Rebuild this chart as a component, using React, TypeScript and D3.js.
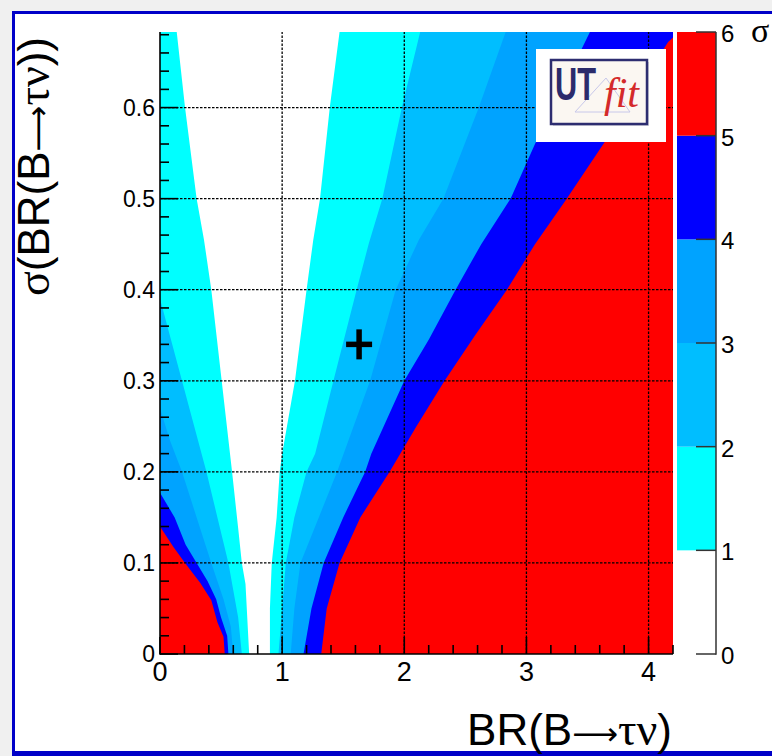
import React from 'react';
import * as d3 from 'd3';

const W = 772;
const H = 756;

// axis ticks
const xTicks = [0, 1, 2, 3, 4];
const yTicks = [0, 0.1, 0.2, 0.3, 0.4, 0.5, 0.6];
const zTicks = [0, 1, 2, 3, 4, 5, 6];
const xTickLabels = ['0', '1', '2', '3', '4'];
const yTickLabels = ['0', '0.1', '0.2', '0.3', '0.4', '0.5', '0.6'];

// colour per sigma band [0-1, 1-2, 2-3, 3-4, 4-5, 5-6]
const bandColors = ['#ffffff', '#00ffff', '#00beff', '#00a3ff', '#0000ff', '#ff0000'];

// contour boundaries: [BR, sigma(BR)]
// left branch of each level (sigma = k), bottom -> top
const left1: [number, number][] = [[0.73, 0], [0.70, 0.077], [0.67, 0.1], [0.64, 0.138], [0.59, 0.2], [0.505, 0.3], [0.42, 0.4], [0.36, 0.455], [0.30, 0.5], [0.205, 0.6], [0.137, 0.683]];
const left2: [number, number][] = [[0.67, 0], [0.64, 0.04], [0.56, 0.1], [0.47, 0.15], [0.38, 0.2], [0.18, 0.3], [0, 0.39]];
const left3: [number, number][] = [[0.60, 0], [0.58, 0.03], [0.52, 0.06], [0.42, 0.1], [0.30, 0.15], [0.18, 0.2], [0.08, 0.235], [0, 0.27]];
const left4: [number, number][] = [[0.56, 0], [0.55, 0.02], [0.50, 0.04], [0.46, 0.06], [0.39, 0.08], [0.30, 0.1], [0.21, 0.12], [0.12, 0.15], [0, 0.177]];
const left5: [number, number][] = [[0.53, 0], [0.52, 0.019], [0.47, 0.035], [0.42, 0.059], [0.33, 0.078], [0.205, 0.1], [0.11, 0.1175], [0, 0.14]];
// right branch of each level, bottom -> top
const right1: [number, number][] = [[0.90, 0], [0.90, 0.05], [0.915, 0.1], [0.955, 0.15], [0.98, 0.2], [1.0, 0.22], [1.105, 0.3], [1.20, 0.4], [1.255, 0.455], [1.31, 0.5], [1.39, 0.6], [1.47, 0.683]];
const right2: [number, number][] = [[0.97, 0], [1.0, 0.05], [1.03, 0.1], [1.10, 0.15], [1.20, 0.2], [1.27, 0.22], [1.42, 0.3], [1.61, 0.4], [1.71, 0.451], [1.82, 0.5], [1.98, 0.6], [2.13, 0.683]];
const right3: [number, number][] = [[1.07, 0], [1.10, 0.05], [1.15, 0.1], [1.30, 0.15], [1.45, 0.2], [1.72, 0.3], [1.93, 0.4], [2.12, 0.455], [2.32, 0.5], [2.61, 0.6], [2.83, 0.683]];
const right4: [number, number][] = [[1.175, 0], [1.24, 0.05], [1.34, 0.1], [1.50, 0.15], [1.68, 0.2], [1.73, 0.22], [2.0, 0.3], [2.2, 0.345], [2.42, 0.4], [2.63, 0.45], [2.87, 0.5], [3.07, 0.56], [3.52, 0.683]];
const right5: [number, number][] = [[1.32, 0], [1.365, 0.05], [1.47, 0.1], [1.64, 0.15], [1.88, 0.2], [2.10, 0.25], [2.33, 0.3], [2.58, 0.35], [2.84, 0.4], [3.07, 0.45], [3.33, 0.5], [3.63, 0.56], [4.16, 0.672], [4.25, 0.683]];

// best-fit marker
const markerBR = [1.63];
const markerSigma = [0.34];

const SANS = "'Liberation Sans', Arial, Helvetica, sans-serif";
const SERIF = "'Liberation Serif', 'Times New Roman', serif";
const ARROW = "'DejaVu Sans', sans-serif";

export default function App() {
  const x = d3.scaleLinear().domain([0, 4.2]).range([160, 673]);
  const y = d3.scaleLinear().domain([0, 0.683]).range([654, 32]);
  const z = d3.scaleLinear().domain([0, 6]).range([654, 32]);
  const line = d3.line<[number, number]>().x(d => x(d[0])).y(d => y(d[1]));

  const region = (l: [number, number][], r: [number, number][]) => {
    const yMax = y.domain()[1];
    const pts: [number, number][] = [...l];
    const last = l[l.length - 1];
    if (last[1] < yMax) pts.push([x.domain()[0], yMax]);
    const rr = [...r].reverse();
    return (line([...pts, ...rr]) || '') + 'Z';
  };

  const lefts = [left1, left2, left3, left4, left5];
  const rights = [right1, right2, right3, right4, right5];
  const order = [4, 3, 2, 1, 0];

  const [x0, x1] = x.range();
  const [y0, y1] = y.range();
  const xMinor = d3.range(0, 4.2001, 0.2);
  const yMinor = d3.range(0, 0.683, 0.02);
  const zBands = d3.range(1, 6);

  return (
    <svg width={W} height={H} style={{ position: 'absolute', left: 0, top: 0 }} fontFamily={SANS}>
      <defs>
        <clipPath id="plotclip">
          <rect x={x0} y={y1} width={x1 - x0} height={y0 - y1} />
        </clipPath>
      </defs>
      {/* frame */}
      <rect x={0} y={0} width={W} height={H} fill="#f0f0f0" />
      <rect x={12} y={11} width={800} height={760} fill="#0000c8" />
      <rect x={15} y={14} width={797} height={737} fill="#ffffff" />

      {/* contours */}
      <g clipPath="url(#plotclip)">
        <rect x={x0} y={y1} width={x1 - x0} height={y0 - y1} fill={bandColors[5]} />
        {order.map(i => (
          <path key={i} d={region(lefts[i], rights[i])} fill={bandColors[i]} />
        ))}
      </g>

      {/* grid */}
      <g stroke="#000" strokeWidth={1.3} strokeDasharray="2.5,1.5">
        {xTicks.filter(t => t > 0).map(t => (
          <line key={'gx' + t} x1={x(t)} x2={x(t)} y1={y0} y2={y1} />
        ))}
        {yTicks.filter(t => t > 0).map(t => (
          <line key={'gy' + t} x1={x0} x2={x1} y1={y(t)} y2={y(t)} />
        ))}
      </g>

      {/* axes */}
      <g stroke="#000" strokeWidth={1.6}>
        <line x1={x0} x2={x0} y1={y0 + 0.8} y2={y1} />
        <line x1={x0} x2={x1} y1={y0} y2={y0} />
        {xMinor.map(t => {
          const major = Math.abs(t - Math.round(t)) < 1e-6;
          return <line key={'tx' + t} x1={x(t)} x2={x(t)} y1={y0} y2={y0 - (major ? 17 : 9)} />;
        })}
        {yMinor.map(t => {
          const major = Math.abs(t * 10 - Math.round(t * 10)) < 1e-6;
          return <line key={'ty' + t} x1={x0} x2={x0 + (major ? 18 : 9)} y1={y(t)} y2={y(t)} />;
        })}
      </g>

      {/* tick labels */}
      <g fontSize={27} fill="#000" textAnchor="middle">
        {xTicks.map((t, i) => (
          <text key={'lx' + t} x={x(t)} y={y0 + 27}>{xTickLabels[i]}</text>
        ))}
      </g>
      <g fontSize={23} fill="#000" textAnchor="end">
        {yTicks.map((t, i) => (
          <text key={'ly' + t} x={x0 - 5} y={y(t) + 8}>{yTickLabels[i]}</text>
        ))}
      </g>

      {/* marker */}
      {markerBR.map((b, i) => (
        <g key={'m' + i} stroke="#000" strokeWidth={5.5}>
          <line x1={x(b) - 13} x2={x(b) + 13} y1={y(markerSigma[i])} y2={y(markerSigma[i])} />
          <line x1={x(b)} x2={x(b)} y1={y(markerSigma[i]) - 15} y2={y(markerSigma[i]) + 15} />
        </g>
      ))}

      {/* logo */}
      <rect x={536} y={49} width={130} height={93} fill="#ffffff" />
      <rect x={553} y={62} width={96} height={64} fill="#b8b8c8" opacity={0.6} />
      <rect x={551} y={60} width={96} height={64} fill="#fbf7f2" stroke="#2d2d70" strokeWidth={2.5} />
      <path d="M575 112 L606 78 L630 112 Z" fill="none" stroke="#c8c8ea" strokeWidth={1} />
      <text x={555} y={100} fontSize={46} fontWeight="bold" fill="#2b2b6b">
        <tspan textLength={41} lengthAdjust="spacingAndGlyphs">UT</tspan>
        <tspan x={604} y={107} fontSize={42} fontWeight="normal" fontStyle="italic" fontFamily={SERIF} fill="#d42a2a">fit</tspan>
      </text>

      {/* color bar */}
      {zBands.map(k => (
        <rect key={'zb' + k} x={677} y={z(k + 1)} width={39} height={z(k) - z(k + 1)} fill={bandColors[k]} />
      ))}
      <g stroke="#333" strokeWidth={1.5}>
        <line x1={716} x2={716} y1={z(0) + 0.75} y2={z(6)} />
        {zTicks.map(t => (
          <line key={'zt' + t} x1={696} x2={716} y1={z(t)} y2={z(t)} />
        ))}
      </g>
      <g fontSize={24} fill="#000">
        {zTicks.map(t => (
          <text key={'zl' + t} x={721} y={z(t) + 10}>{String(t)}</text>
        ))}
      </g>
      <text x={751} y={42} fontSize={34} fontFamily={SERIF} fill="#000">σ</text>

      {/* axis titles */}
      <text x={672} y={745} fontSize={44} textAnchor="end" fill="#000">
        BR(B<tspan fontFamily={ARROW} fontSize={32}>⟶</tspan><tspan fontFamily={SERIF} fontSize={46}>τν</tspan>)
      </text>
      <text transform="translate(49,37) rotate(-90)" fontSize={44} textAnchor="end" fill="#000">
        <tspan fontFamily={SERIF} fontSize={46}>σ</tspan>(BR(B<tspan fontFamily={ARROW} fontSize={32}>⟶</tspan><tspan fontFamily={SERIF} fontSize={46}>τν</tspan>))
      </text>
    </svg>
  );
}
